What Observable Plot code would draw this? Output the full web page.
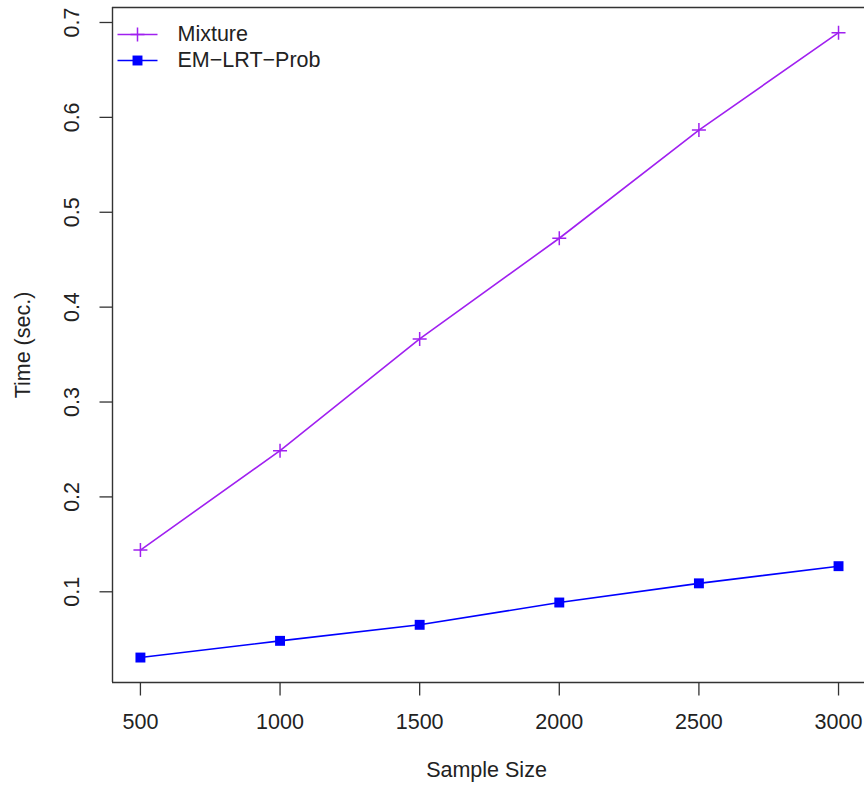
<!DOCTYPE html>
<html>
<head>
<meta charset="utf-8">
<script src="https://cdn.jsdelivr.net/npm/d3@7"></script>
<script src="https://cdn.jsdelivr.net/npm/@observablehq/plot@0.6"></script>
<style>
  html, body { margin: 0; padding: 0; background: #fff; }
  svg { display: block; }
</style>
</head>
<body>
<div id="chart"></div>
<script>
// ---- data ----
const sampleSizes = [500, 1000, 1500, 2000, 2500, 3000];
const mixtureTime = [0.144, 0.2487, 0.3665, 0.4726, 0.5866, 0.6893];
const emTime      = [0.0307, 0.0483, 0.0652, 0.0887, 0.1089, 0.1270];
const seriesNames = ["Mixture", "EM\u2212LRT\u2212Prob"];
const seriesColors = ["#A020F0", "#0000FF"];
const xTicks = [500, 1000, 1500, 2000, 2500, 3000];
const yTicks = [0.1, 0.2, 0.3, 0.4, 0.5, 0.6, 0.7];
const xLabel = "Sample Size";
const yLabel = "Time (sec.)";

const mixture = sampleSizes.map((x, i) => ({x, y: mixtureTime[i]}));
const em = sampleSizes.map((x, i) => ({x, y: emTime[i]}));

const xDomain = [400, 3093];
const yDomain = [0.0044, 0.7158];

const font = "'Liberation Sans', Arial, Helvetica, sans-serif";
const fs = 21.5;
const ink = "#222";

// thin stroked plus (R pch=3)
const thinPlus = {
  draw(ctx, size) {
    const r = Math.sqrt(size / Math.PI);
    ctx.moveTo(-r, 0); ctx.lineTo(r, 0);
    ctx.moveTo(0, -r); ctx.lineTo(0, r);
  }
};
// horizontal legend line
const hline = { draw(ctx) { ctx.moveTo(-20, 0); ctx.lineTo(20, 0); } };
// axis tick glyphs
const tickDown = { draw(ctx) { ctx.moveTo(0, 0); ctx.lineTo(0, 13); } };
const tickLeft = { draw(ctx) { ctx.moveTo(0, 0); ctx.lineTo(-13, 0); } };

const legendRows = [
  {name: seriesNames[0], color: seriesColors[0], sym: thinPlus, r: 7, fill: "none", stroke: seriesColors[0], dy: 27},
  {name: seriesNames[1], color: seriesColors[1], sym: "square", r: 5.6, fill: seriesColors[1], stroke: "none", dy: 53}
];

const legendMarks = legendRows.flatMap(row => [
  Plot.dot([0], {frameAnchor: "top-left", dx: 25, dy: row.dy, symbol: hline, r: 5, stroke: row.color, strokeWidth: 1.5, fill: "none"}),
  Plot.dot([0], {frameAnchor: "top-left", dx: 25, dy: row.dy, symbol: row.sym, r: row.r, stroke: row.stroke, strokeWidth: 1.5, fill: row.fill}),
  Plot.text([row.name], {frameAnchor: "top-left", dx: 65, dy: row.dy, text: d => d, textAnchor: "start", lineAnchor: "middle", fontSize: fs, fill: ink})
]);

const chart = Plot.plot({
  width: 864,
  height: 789,
  marginLeft: 112,
  marginRight: 0,
  marginTop: 7,
  marginBottom: 107,
  style: {fontFamily: font, background: "#fff", overflow: "visible"},
  x: {domain: xDomain, axis: null},
  y: {domain: yDomain, axis: null},
  marks: [
    // box (left, top, bottom)
    Plot.ruleX([xDomain[0]], {stroke: "#333", strokeWidth: 1.4}),
    Plot.ruleY(yDomain, {stroke: "#333", strokeWidth: 1.4}),
    // ticks
    Plot.dot(xTicks, {x: d => d, frameAnchor: "bottom", symbol: tickDown, r: 5, stroke: "#333", strokeWidth: 1.3, fill: "none"}),
    Plot.dot(yTicks, {y: d => d, frameAnchor: "left", symbol: tickLeft, r: 5, stroke: "#333", strokeWidth: 1.3, fill: "none"}),
    // tick labels
    Plot.text(xTicks, {x: d => d, frameAnchor: "bottom", dy: 39.5, lineAnchor: "middle", text: d => String(d), fontSize: fs, fill: ink}),
    Plot.text(yTicks, {y: d => d, frameAnchor: "left", dx: -40, rotate: -90, lineAnchor: "middle", textAnchor: "middle", text: d => String(d), fontSize: fs, fill: ink}),
    // axis titles
    Plot.text([xLabel], {frameAnchor: "bottom", dy: 88, dx: -2, lineAnchor: "middle", text: d => d, fontSize: fs, fill: ink}),
    Plot.text([yLabel], {frameAnchor: "left", dx: -89, rotate: -90, lineAnchor: "middle", textAnchor: "middle", text: d => d, fontSize: fs, fill: ink}),
    // series
    Plot.line(mixture, {x: "x", y: "y", stroke: seriesColors[0], strokeWidth: 1.6}),
    Plot.dot(mixture, {x: "x", y: "y", symbol: thinPlus, r: 7, stroke: seriesColors[0], strokeWidth: 1.5, fill: "none"}),
    Plot.line(em, {x: "x", y: "y", stroke: seriesColors[1], strokeWidth: 1.6}),
    Plot.dot(em, {x: "x", y: "y", symbol: "square", r: 5.6, fill: seriesColors[1], stroke: "none"}),
    ...legendMarks
  ]
});
document.getElementById("chart").appendChild(chart);
</script>
</body>
</html>
